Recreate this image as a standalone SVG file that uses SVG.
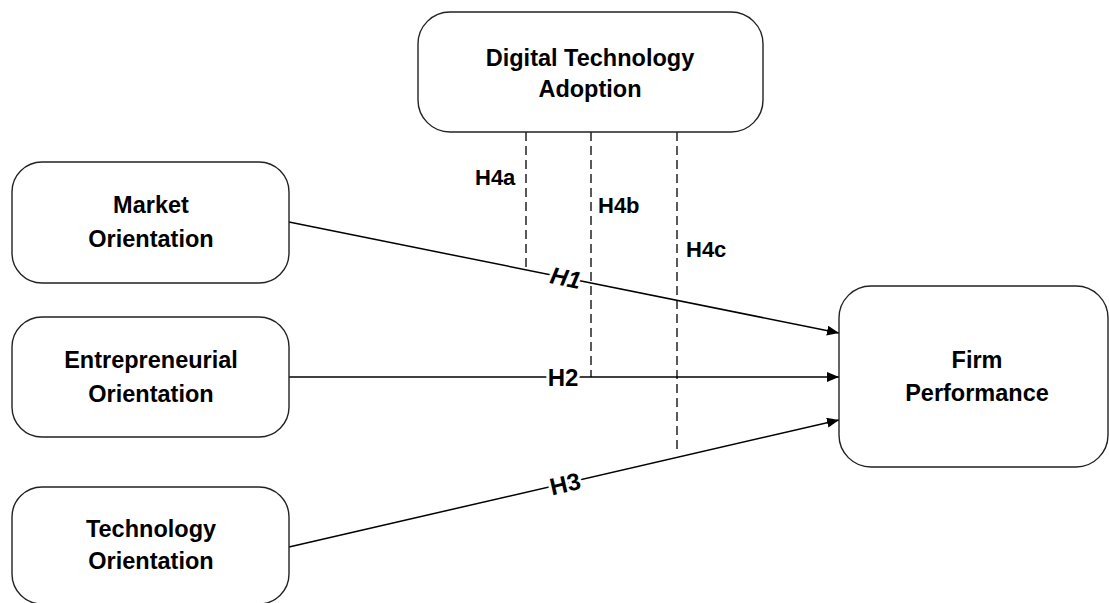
<svg xmlns="http://www.w3.org/2000/svg" width="1109" height="603" viewBox="0 0 1109 603">
<style>
.box{fill:#fff;stroke:#222;stroke-width:1.4}
.t{font-family:"Liberation Sans",Arial,sans-serif;font-weight:bold;font-size:23.5px;fill:#000;text-anchor:middle}
.lbl{font-family:"Liberation Sans",Arial,sans-serif;font-weight:bold;font-size:24px;fill:#000;text-anchor:middle;stroke:#fff;stroke-width:6;paint-order:stroke}
.h4{font-family:"Liberation Sans",Arial,sans-serif;font-weight:bold;font-size:22px;fill:#000}
.ln{stroke:#000;stroke-width:1.5;fill:none}
.dash{stroke:#000;stroke-width:1.3;stroke-dasharray:9,5;fill:none}
</style>
<defs>
<marker id="arr" markerWidth="12" markerHeight="10" refX="12" refY="5" orient="auto" markerUnits="userSpaceOnUse">
<path d="M0,0 L12,5 L0,10 Z" fill="#000"/>
</marker>
</defs>
<rect width="1109" height="603" fill="#fff"/>
<g id="connectors">
<line class="dash" x1="526" y1="132" x2="526" y2="269"/>
<line class="dash" x1="591" y1="132" x2="591" y2="377"/>
<line class="dash" x1="677" y1="132" x2="677" y2="452"/>
<line class="ln" x1="289" y1="222" x2="839" y2="333" marker-end="url(#arr)"/>
<line class="ln" x1="289" y1="377" x2="839" y2="377" marker-end="url(#arr)"/>
<line class="ln" x1="289" y1="547" x2="839" y2="420" marker-end="url(#arr)"/>
<text class="lbl" transform="translate(564,286) rotate(11.4)" font-style="italic">H1</text>
<text class="lbl" x="563" y="386">H2</text>
<text class="lbl" transform="translate(567,492) rotate(-13)">H3</text>
<text class="h4" x="475" y="185">H4a</text>
<text class="h4" x="598" y="213">H4b</text>
<text class="h4" x="686" y="257">H4c</text>
</g>
<g id="dta">
<rect class="box" x="418" y="12" width="345" height="120" rx="32"/>
<text class="t" x="590" y="66">Digital Technology</text>
<text class="t" x="590" y="97">Adoption</text>
</g>
<g id="mo">
<rect class="box" x="12" y="162" width="277" height="121" rx="30"/>
<text class="t" x="151" y="213">Market</text>
<text class="t" x="151" y="247">Orientation</text>
</g>
<g id="eo">
<rect class="box" x="12" y="317" width="277" height="120" rx="30"/>
<text class="t" x="151" y="368">Entrepreneurial</text>
<text class="t" x="151" y="402">Orientation</text>
</g>
<g id="to">
<rect class="box" x="12" y="487" width="277" height="117" rx="30"/>
<text class="t" x="151" y="537">Technology</text>
<text class="t" x="151" y="569">Orientation</text>
</g>
<g id="fp">
<rect class="box" x="839" y="286" width="269" height="181" rx="32"/>
<text class="t" x="977" y="368">Firm</text>
<text class="t" x="977" y="401">Performance</text>
</g>
</svg>
